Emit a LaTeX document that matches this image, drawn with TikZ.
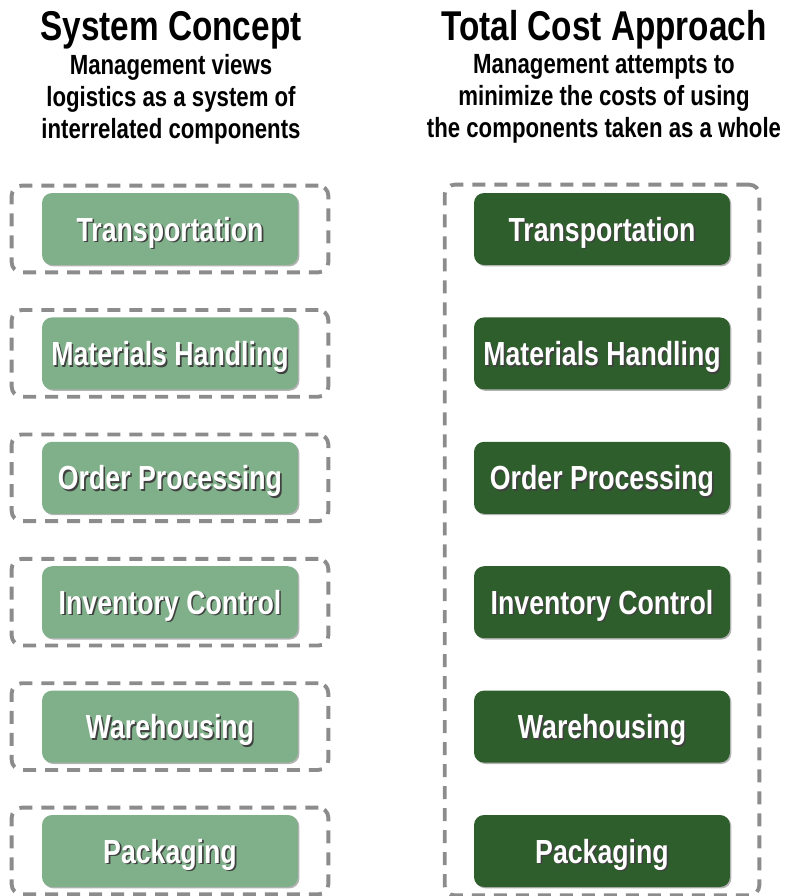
\documentclass[tikz,border=0pt]{standalone}
\usepackage{fontspec}
\setmainfont{Liberation Sans}[FakeStretch=0.8]
\usetikzlibrary{shadows, fit}

\definecolor{lightgreen}{RGB}{127,176,138}
\definecolor{darkgreen}{RGB}{46,94,44}
\definecolor{dashgray}{RGB}{140,140,140}

% white text with a dark shadow
\newcommand{\shtext}[1]{\leavevmode\rlap{\kern0.9pt\raisebox{-0.9pt}{\textcolor{black!75}{#1}}}\textcolor{white}{#1}}

\begin{document}
\begin{tikzpicture}[x=0.02cm, y=-0.02cm,
	comp/.style={rectangle, rounded corners=0.2cm, minimum width=5.12cm, minimum height=1.44cm, text depth=0pt,
		font=\fontsize{19}{22}\selectfont\bfseries, drop shadow={shadow xshift=0.8pt, shadow yshift=-0.8pt, opacity=0.6}},
	groupbox/.style={draw=dashgray, line width=2.2pt, dash pattern=on 0.26cm off 0.18cm, rounded corners=0.2cm},
	heading/.style={font=\fontsize{23.7}{28}\selectfont\bfseries},
	subheading/.style={align=center, font=\fontsize{15.8}{18.2}\selectfont\bfseries}]
	\useasboundingbox (0,0) rectangle (787,896);
	% Headings:
	\node[heading] (sys-title) at (171, 30){System Concept};
	\node[subheading] (sys-text) at (171, 99){Management views\\logistics as a system of\\interrelated components};
	\node[heading] (tc-title) at (604, 30){Total Cost Approach};
	\node[subheading] (tc-text) at (604, 99){Management attempts to\\minimize the costs of using\\the components taken as a whole};
	% Components:
	\foreach \i/\name [evaluate=\i as \y using 229+124.4*(\i-1)] in {1/Transportation, 2/Materials Handling, 3/Order Processing, 4/Inventory Control, 5/Warehousing, 6/Packaging}{
		\node[comp, fill=lightgreen] (sys-\i) at (170, \y){\shtext{\name}};
		\node[groupbox, fit=(sys-\i), inner xsep=0.6cm, inner ysep=0.14cm] (sys-group-\i){};
		\node[comp, fill=darkgreen] (tc-\i) at (602, \y){\shtext{\name}};
	}
	\node[groupbox, fit=(tc-1)(tc-6), inner xsep=0.58cm, inner ysep=0.16cm] (tc-group){};
\end{tikzpicture}
\end{document}
